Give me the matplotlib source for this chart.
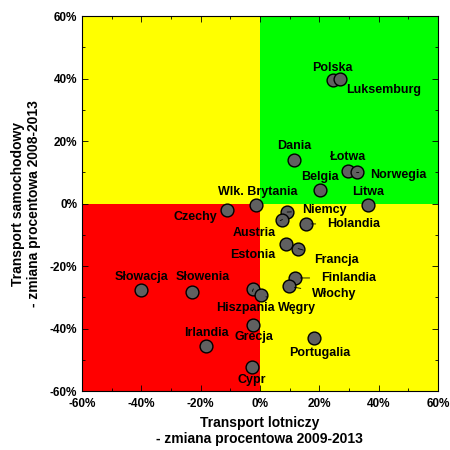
import matplotlib
matplotlib.use('Agg')
import matplotlib.pyplot as plt
import matplotlib.ticker as ticker

plt.rcParams['font.family'] = ['Liberation Sans', 'DejaVu Sans']
plt.rcParams['font.weight'] = 'bold'

# Dane: zmiana procentowa 2008-2013
kraje = ['Polska', 'Luksemburg', 'Dania', 'Łotwa', 'Norwegia', 'Belgia',
         'Wlk. Brytania', 'Litwa', 'Czechy', 'Niemcy', 'Austria', 'Holandia',
         'Estonia', 'Francja', 'Finlandia', 'Włochy', 'Słowacja', 'Słowenia',
         'Hiszpania', 'Węgry', 'Grecja', 'Irlandia', 'Portugalia', 'Cypr']
lotniczy = [24.5, 27.0, 11.6, 29.8, 32.6, 20.2,
            -1.3, 36.6, -11.2, 9.2, 7.6, 15.4,
            8.8, 12.9, 11.8, 9.8, -40.1, -23.0,
            -2.2, 0.3, -2.2, -18.0, 18.4, -2.7]
samochodowy = [39.5, 40.0, 14.0, 10.6, 10.0, 4.3,
               -0.6, -0.6, -2.2, -2.7, -5.1, -6.5,
               -12.9, -14.4, -23.8, -26.5, -27.6, -28.3,
               -27.3, -29.2, -38.9, -45.5, -42.9, -52.3]
# pozycje etykiet
etyk_x = [24.3, 41.8, 11.6, 29.8, 46.6, 20.2,
          -0.6, 36.6, -21.6, 21.9, -1.9, 31.5,
          -2.5, 25.8, 29.8, 25.0, -39.9, -19.4,
          -4.8, 12.4, -1.9, -18.0, 20.2, -2.8]
etyk_y = [43.5, 36.5, 18.3, 14.8, 9.1, 8.5,
          3.6, 3.6, -4.4, -2.2, -9.4, -6.5,
          -16.5, -17.9, -23.8, -28.9, -23.5, -23.5,
          -33.4, -33.4, -42.7, -41.4, -47.8, -56.6]
# kraje z linią odniesienia
z_linia = ['Norwegia', 'Niemcy', 'Holandia', 'Austria', 'Francja',
           'Finlandia', 'Włochy', 'Hiszpania', 'Węgry']

fig = plt.figure(figsize=(4.5, 4.5), dpi=100)
ax = fig.add_axes([0.182, 0.131, 0.791, 0.833])

# Ćwiartki
ax.axvspan(-60, 0, ymin=0.5, ymax=1, color='#FFFF00', lw=0, zorder=0)
ax.axvspan(0, 60, ymin=0.5, ymax=1, color='#00FF00', lw=0, zorder=0)
ax.axvspan(-60, 0, ymin=0, ymax=0.5, color='#FF0000', lw=0, zorder=0)
ax.axvspan(0, 60, ymin=0, ymax=0.5, color='#FFFF00', lw=0, zorder=0)

ax.scatter(lotniczy, samochodowy, s=85, c='#606060', edgecolors='black',
           linewidths=1, zorder=3)

for k, x, y, tx, ty in zip(kraje, lotniczy, samochodowy, etyk_x, etyk_y):
    if k in z_linia:
        ax.annotate(k, xy=(x, y), xytext=(tx, ty), ha='center', va='center',
                    fontsize=9, fontweight='bold', zorder=4,
                    arrowprops=dict(arrowstyle='-', color='black', lw=0.6,
                                    shrinkA=6, shrinkB=4))
    else:
        ax.text(tx, ty, k, ha='center', va='center', fontsize=9,
                fontweight='bold', zorder=4)

ax.set_xlim(-60, 60)
ax.set_ylim(-60, 60)
ax.xaxis.set_major_locator(ticker.MultipleLocator(20))
ax.yaxis.set_major_locator(ticker.MultipleLocator(20))
ax.xaxis.set_minor_locator(ticker.MultipleLocator(10))
ax.yaxis.set_minor_locator(ticker.MultipleLocator(10))
fmt = ticker.FuncFormatter(lambda v, p: '%d%%' % v)
ax.xaxis.set_major_formatter(fmt)
ax.yaxis.set_major_formatter(fmt)
ax.tick_params(which='both', direction='in', top=True, right=True,
               labelsize=8.5, width=0.6)
ax.tick_params(which='major', length=4)
ax.tick_params(which='minor', length=2)
ax.tick_params(axis='x', pad=5)
for lab in ax.get_xticklabels() + ax.get_yticklabels():
    lab.set_fontweight('bold')

ax.set_xlabel('Transport lotniczy\n- zmiana procentowa 2009-2013',
              fontsize=10, fontweight='bold', labelpad=4)
ax.set_ylabel('Transport samochodowy\n- zmiana procentowa 2008-2013',
              fontsize=10, fontweight='bold', labelpad=6)

fig.savefig('out.png', dpi=100)
